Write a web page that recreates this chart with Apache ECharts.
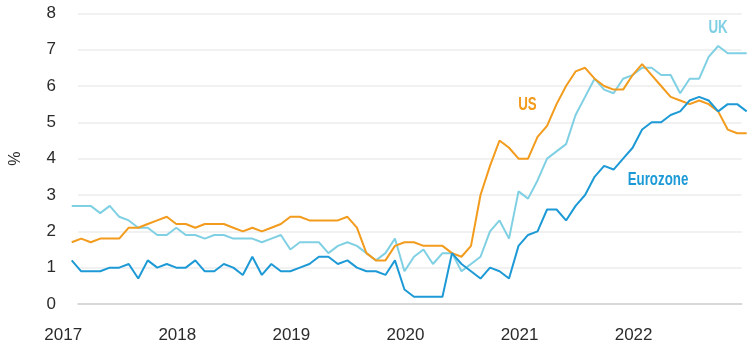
<!DOCTYPE html>
<html>
<head>
<meta charset="utf-8">
<style>
    html, body { margin: 0; padding: 0; background: #fff; }
    #chart-line { width: 750px; height: 352px; }
</style>
<script src="https://cdn.jsdelivr.net/npm/echarts@6/dist/echarts.min.js"></script>
</head>
<body>
<div id="chart-line"></div>
<script>
var years = ['2017', '2018', '2019', '2020', '2021', '2022'];
var yTicks = [0, 1, 2, 3, 4, 5, 6, 7, 8];

var ukData = [2.7, 2.7, 2.7, 2.5, 2.7, 2.4, 2.3, 2.1, 2.1, 1.9, 1.9, 2.1,
    1.9, 1.9, 1.8, 1.9, 1.9, 1.8, 1.8, 1.8, 1.7, 1.8, 1.9, 1.5,
    1.7, 1.7, 1.7, 1.4, 1.6, 1.7, 1.6, 1.4, 1.2, 1.4, 1.8, 0.9,
    1.3, 1.5, 1.1, 1.4, 1.4, 0.9, 1.1, 1.3, 2.0, 2.3, 1.8, 3.1,
    2.9, 3.4, 4.0, 4.2, 4.4, 5.2, 5.7, 6.2, 5.9, 5.8, 6.2, 6.3,
    6.5, 6.5, 6.3, 6.3, 5.8, 6.2, 6.2, 6.8, 7.1, 6.9, 6.9, 6.9];

var usData = [1.7, 1.8, 1.7, 1.8, 1.8, 1.8, 2.1, 2.1, 2.2, 2.3, 2.4, 2.2,
    2.2, 2.1, 2.2, 2.2, 2.2, 2.1, 2.0, 2.1, 2.0, 2.1, 2.2, 2.4,
    2.4, 2.3, 2.3, 2.3, 2.3, 2.4, 2.1, 1.4, 1.2, 1.2, 1.6, 1.7,
    1.7, 1.6, 1.6, 1.6, 1.4, 1.3, 1.6, 3.0, 3.8, 4.5, 4.3, 4.0,
    4.0, 4.6, 4.9, 5.5, 6.0, 6.4, 6.5, 6.2, 6.0, 5.9, 5.9, 6.3,
    6.6, 6.3, 6.0, 5.7, 5.6, 5.5, 5.6, 5.5, 5.3, 4.8, 4.7, 4.7];

var ezData = [1.2, 0.9, 0.9, 0.9, 1.0, 1.0, 1.1, 0.7, 1.2, 1.0, 1.1, 1.0,
    1.0, 1.2, 0.9, 0.9, 1.1, 1.0, 0.8, 1.3, 0.8, 1.1, 0.9, 0.9,
    1.0, 1.1, 1.3, 1.3, 1.1, 1.2, 1.0, 0.9, 0.9, 0.8, 1.2, 0.4,
    0.2, 0.2, 0.2, 0.2, 1.4, 1.1, 0.9, 0.7, 1.0, 0.9, 0.7, 1.6,
    1.9, 2.0, 2.6, 2.6, 2.3, 2.7, 3.0, 3.5, 3.8, 3.7, 4.0, 4.3,
    4.8, 5.0, 5.0, 5.2, 5.3, 5.6, 5.7, 5.6, 5.3, 5.5, 5.5, 5.3];

var seriesNames = ['UK', 'US', 'Eurozone'];
var lineColor = ['#80d0e3', '#f29b1c', '#1d9ad6'];

// month categories, one per point
var months = [];
for (var y = 0; y < years.length; y++) {
    for (var m = 1; m <= 12; m++) {
        months.push(years[y] + '-' + (m < 10 ? '0' + m : m));
    }
}

var labelFont = 'Liberation Sans, Arial, sans-serif';

// series name tags, squeezed to look like a condensed face
function tag(text, color, x, y) {
    return {
        type: 'text',
        x: x,
        y: y,
        scaleX: 0.74,
        style: {
            text: text,
            fill: color,
            font: 'bold 18px "Liberation Sans", Arial, sans-serif',
            textAlign: 'center',
            textVerticalAlign: 'middle'
        }
    };
}

var myChart = echarts.init(document.getElementById('chart-line'));
var option = {
    animation: false,
    grid: [
        // grid lines + y labels
        { left: 66.7, right: 8.3, top: 13.3, bottom: 48 },
        // data lines
        { left: 71.7, right: 3.3, top: 13.3, bottom: 48 }
    ],
    xAxis: [
        {
            gridIndex: 0,
            type: 'category',
            boundaryGap: false,
            data: months,
            axisLine: { show: true, lineStyle: { color: '#d0d0d0', width: 1.5 } },
            axisTick: { show: false },
            axisLabel: { show: false },
            splitLine: { show: false }
        },
        {
            gridIndex: 1,
            type: 'category',
            boundaryGap: false,
            data: months,
            axisLine: { show: false },
            axisTick: { show: false },
            splitLine: { show: false },
            axisLabel: {
                interval: function (index) { return index % 12 === 0; },
                formatter: function (val) { return val.slice(0, 4); },
                color: '#2b2b2b',
                fontSize: 17,
                fontFamily: labelFont,
                margin: 23,
                padding: [0, 17, 0, 0]
            }
        }
    ],
    yAxis: [
        {
            gridIndex: 0,
            type: 'value',
            min: yTicks[0],
            max: yTicks[yTicks.length - 1],
            interval: 1,
            name: '%',
            nameLocation: 'middle',
            nameGap: 54,
            nameRotate: 90,
            nameTextStyle: { color: '#2b2b2b', fontSize: 16, fontFamily: labelFont },
            axisLine: { show: false },
            axisTick: { show: false },
            axisLabel: { color: '#2b2b2b', fontSize: 17, fontFamily: labelFont, margin: 22 },
            splitLine: { show: true, lineStyle: { color: '#ececec', width: 1.5 } }
        },
        {
            gridIndex: 1,
            type: 'value',
            min: yTicks[0],
            max: yTicks[yTicks.length - 1],
            show: false,
            splitLine: { show: false }
        }
    ],
    series: [ukData, usData, ezData].map(function (d, i) {
        return {
            name: seriesNames[i],
            type: 'line',
            xAxisIndex: 1,
            yAxisIndex: 1,
            data: d,
            symbol: 'none',
            lineStyle: { color: lineColor[i], width: 2 },
            z: 3 + i
        };
    }),
    graphic: [
        tag('UK', lineColor[0], 718, 28),
        tag('US', lineColor[1], 527.5, 105),
        tag('Eurozone', lineColor[2], 658, 180)
    ]
};
myChart.setOption(option);
</script>
</body>
</html>
